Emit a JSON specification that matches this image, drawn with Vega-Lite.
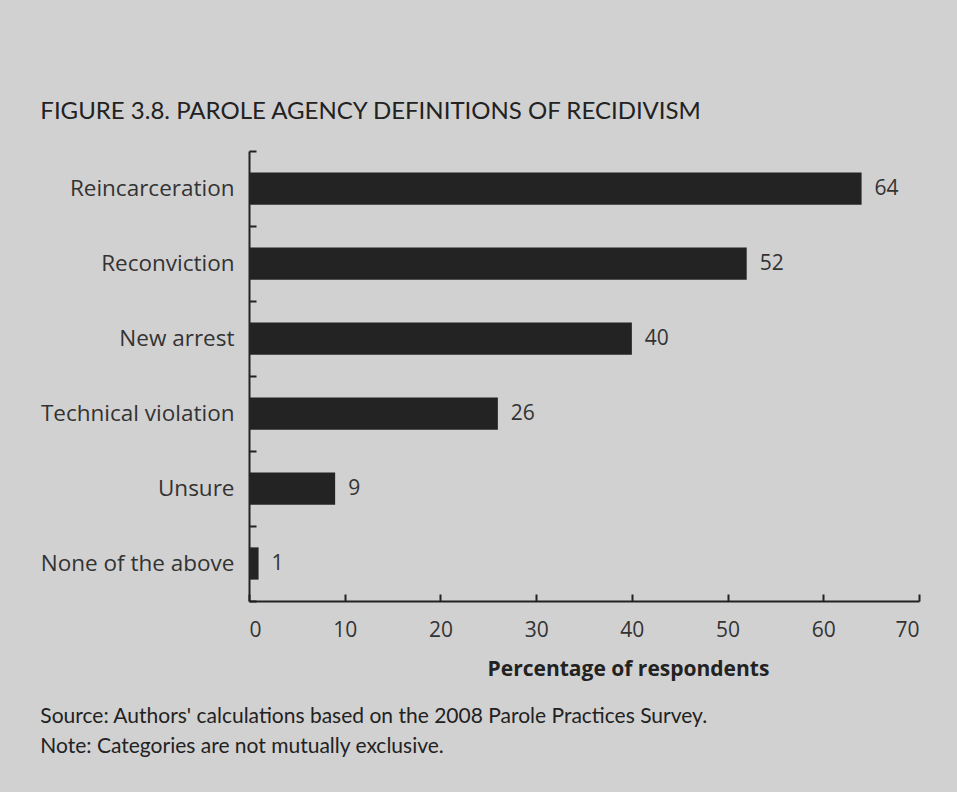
{
  "$schema": "https://vega.github.io/schema/vega-lite/v6.json",
  "background": "#d1d1d1",
  "padding": {"left": 40, "top": 100, "right": 37, "bottom": 35},
  "title": {
    "text": "FIGURE 3.8.  PAROLE AGENCY DEFINITIONS OF RECIDIVISM",
    "anchor": "start",
    "frame": "bounds",
    "font": "Lato",
    "fontSize": 24,
    "fontWeight": "normal",
    "color": "#222222",
    "offset": 16
  },
  "config": {"view": {"stroke": null}, "concat": {"spacing": 0}},
  "vconcat": [
    {
      "width": 670,
      "height": 450,
      "title": {
        "text": [
          "Source: Authors' calculations based on the 2008 Parole Practices Survey.",
          "Note: Categories are not mutually exclusive."
        ],
        "orient": "bottom",
        "anchor": "start",
        "frame": "bounds",
        "font": "Lato",
        "fontSize": 21,
        "fontWeight": "normal",
        "color": "#222222",
        "lineHeight": 30,
        "offset": 27
      },
      "data": {
        "values": [
          {"category": "Reincarceration", "value": 64},
          {"category": "Reconviction", "value": 52},
          {"category": "New arrest", "value": 40},
          {"category": "Technical violation", "value": 26},
          {"category": "Unsure", "value": 9},
          {"category": "None of the above", "value": 1}
        ]
      },
      "encoding": {
        "y": {
          "field": "category",
          "type": "nominal",
          "sort": null,
          "scale": {"paddingInner": 0, "paddingOuter": 0},
          "axis": {
            "title": null,
            "domainColor": "#222222",
            "domainWidth": 2,
            "tickColor": "#222222",
            "tickWidth": 2,
            "tickSize": -7,
            "tickBand": "extent",
            "labelFont": "Open Sans",
            "labelFontSize": 22.5,
            "labelColor": "#333333",
            "labelPadding": 22,
            "labelLimit": 400
          }
        },
        "x": {
          "field": "value",
          "type": "quantitative",
          "scale": {"domain": [0, 70], "nice": false},
          "axis": {
            "values": [0, 10, 20, 30, 40, 50, 60, 70],
            "grid": false,
            "domainColor": "#222222",
            "domainWidth": 2,
            "tickColor": "#222222",
            "tickWidth": 2,
            "tickSize": -7,
            "labelFont": "Open Sans",
            "labelFontSize": 21,
            "labelColor": "#333333",
            "labelPadding": 25,
            "title": "Percentage of respondents",
            "titleFont": "Open Sans",
            "titleFontSize": 21,
            "titleFontWeight": "bold",
            "titleColor": "#222222",
            "titleX": 379,
            "titlePadding": 18
          }
        }
      },
      "layer": [
        {"mark": {"type": "bar", "color": "#232323", "height": {"band": 0.43}}},
        {
          "mark": {"type": "text", "align": "left", "dx": 13, "font": "Open Sans", "fontSize": 21, "color": "#333333"},
          "encoding": {"text": {"field": "value", "type": "quantitative"}}
        }
      ]
    }
  ]
}
